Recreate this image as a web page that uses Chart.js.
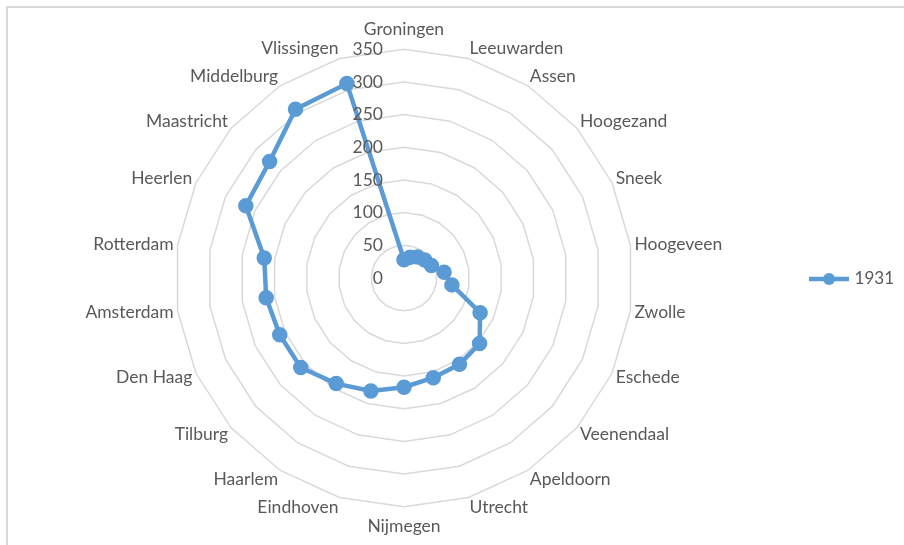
<!DOCTYPE html>
<html>
<head>
<meta charset="utf-8">
<script src="https://cdn.jsdelivr.net/npm/chart.js@4"></script>
<style>
    body { margin: 0; background: #fff; overflow: hidden; }
    .kader { position: absolute; left: 6px; top: 6px; width: 950px; height: 600px; border: 2px solid #d9d9d9; }
    canvas#GraficoSteden { position: absolute; left: 0; top: 0; }
</style>
</head>
<body>
<div class="kader"></div>
<canvas id="GraficoSteden" width="904" height="545"></canvas>
<script>
var steden = ["Groningen", "Leeuwarden", "Assen", "Hoogezand", "Sneek", "Hoogeveen", "Zwolle", "Eschede",
    "Veenendaal", "Apeldoorn", "Utrecht", "Nijmegen", "Eindhoven", "Haarlem", "Tilburg", "Den Haag",
    "Amsterdam", "Rotterdam", "Heerlen", "Maastricht", "Middelburg", "Vlissingen"];
var waarden1931 = [28, 33, 38, 42, 46, 62, 74, 128, 153, 157, 159, 167, 180, 192, 209, 209, 213, 216, 266, 272, 307, 310];
var tickWaarden = [0, 50, 100, 150, 200, 250, 300, 350];

var blauw = "#5b9bd5";
var tekstKleur = "#595959";
var lettertype = "Lato";

function isBovenOnder(i) {
    return i === 0 || i === steden.length / 2;
}

// legend symbol: line with a dot, like Excel
var legendaSymbool = document.createElement("canvas");
legendaSymbool.width = 40;
legendaSymbool.height = 14;
var lctx = legendaSymbool.getContext("2d");
lctx.strokeStyle = blauw;
lctx.lineWidth = 4.5;
lctx.beginPath();
lctx.moveTo(0, 7);
lctx.lineTo(40, 7);
lctx.stroke();
lctx.fillStyle = blauw;
lctx.beginPath();
lctx.arc(20, 7, 6, 0, Math.PI * 2);
lctx.fill();

var eigenLabels = {
    id: "eigenLabels",
    afterDraw: function (chart) {
        var scale = chart.scales.r;
        var ctx = chart.ctx;
        ctx.save();
        ctx.fillStyle = tekstKleur;
        ctx.font = "17.5px " + lettertype;

        // tick labels, left of the vertical axis
        ctx.textAlign = "right";
        ctx.textBaseline = "middle";
        tickWaarden.forEach(function (v) {
            var y = scale.yCenter - scale.getDistanceFromCenterForValue(v);
            ctx.fillText(String(v), scale.xCenter - 21, y);
        });

        // city labels round the web
        steden.forEach(function (naam, i) {
            var hoek = scale.getIndexAngle(i);
            var pos = scale.getPointPosition(i, scale.drawingArea + (isBovenOnder(i) ? 13 : 4));
            var graden = Math.round(hoek * 180 / Math.PI) % 360;
            if (graden === 0 || graden === 180) ctx.textAlign = "center";
            else if (graden < 180) ctx.textAlign = "left";
            else ctx.textAlign = "right";
            var y = pos.y - 6.5 * Math.cos(hoek);
            ctx.fillText(naam, pos.x, y);
        });
        ctx.restore();
    }
};

var ctx = document.getElementById("GraficoSteden").getContext("2d");
var grafico = new Chart(ctx, {
    type: 'radar',
    data: {
        labels: steden,
        datasets: [
            {
                label: "1931",
                data: waarden1931,
                borderColor: blauw,
                backgroundColor: blauw,
                borderWidth: 4.5,
                pointRadius: 5.5,
                pointHoverRadius: 5.5,
                pointBackgroundColor: blauw,
                pointBorderColor: blauw,
                fill: false,
                tension: 0
            }
        ]
    },
    options: {
        responsive: false,
        animation: false,
        layout: { padding: { left: 5, right: 0, top: 19, bottom: 6 } },
        plugins: {
            tooltip: { enabled: false },
            legend: {
                position: 'right',
                labels: {
                    usePointStyle: true,
                    pointStyle: legendaSymbool,
                    pointStyleWidth: 34,
                    color: tekstKleur,
                    font: { family: lettertype, size: 17 },
                    padding: 8
                }
            }
        },
        scales: {
            r: {
                min: 0,
                max: 350,
                beginAtZero: true,
                ticks: { display: false, stepSize: 50 },
                angleLines: { display: false },
                grid: { circular: false, color: "#d9d9d9", lineWidth: 1.5 },
                pointLabels: {
                    display: true,
                    color: "rgba(0,0,0,0)",
                    font: { family: lettertype, size: 16 },
                    padding: function (c) { return isBovenOnder(c.index) ? 12 : 3; }
                }
            }
        }
    },
    plugins: [eigenLabels]
});
</script>
</body>
</html>
